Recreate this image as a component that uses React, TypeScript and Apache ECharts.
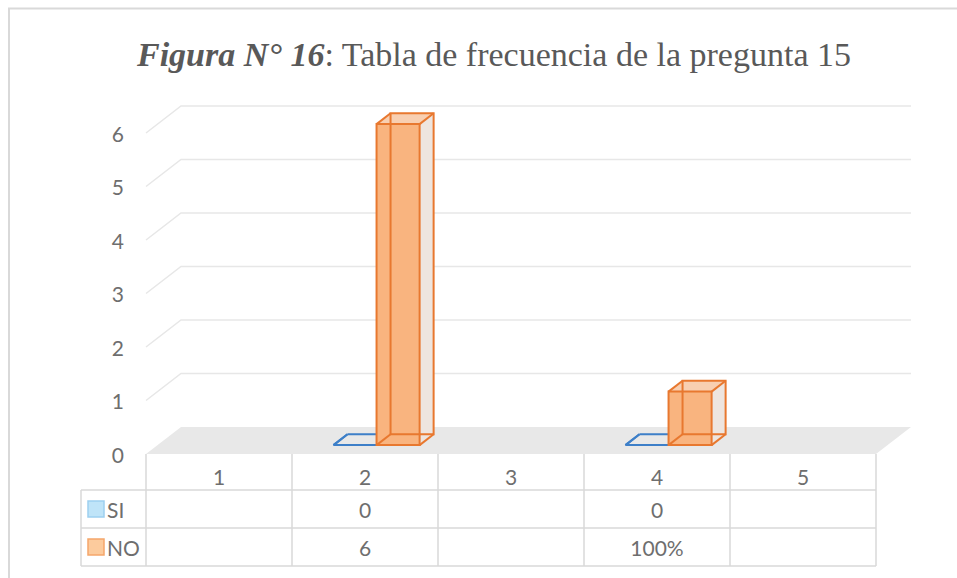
import React, { useEffect, useRef } from 'react';
import * as echarts from 'echarts';

// ---- data ----
const categories = ['1', '2', '3', '4', '5'];
const seriesNames = ['SI', 'NO'];
const siValues: (number | null)[] = [null, 0, null, 0, null];
const noValues: (number | null)[] = [null, 6, null, 1, null];
const siLabels = ['', '0', '', '0', ''];
const noLabels = ['', '6', '', '100%', ''];
const yTicks = [0, 1, 2, 3, 4, 5, 6];

// ---- styling / geometry ----
const DEPTH_X = 35;
const DEPTH_Y = -27;
const BAR_FRONT = 0.33;
const BAR_DEPTH = 0.4;
const BAR_W = 0.295;
const TEXT = '#6e6e6e';
const LABEL_FONT = 'Lato, "Open Sans", sans-serif';
const LABEL_SIZE = 21;
const TABLE_LINE = '#d9d9d9';
const GRID = { left: 146, right: 81, top: 133, bottom: 124 };
const LEGEND_LEFT = 81;
const ROW_H1 = 36;
const ROW_H2 = 38;
const ROW_H3 = 38;

type BarStyle = { front: string; side: string; top: string; edge: string };
const SI_STYLE: BarStyle = {
  front: 'rgba(91,155,213,0.25)',
  side: 'rgba(91,155,213,0.12)',
  top: 'rgba(91,155,213,0.0)',
  edge: '#3d7fc8',
};
const NO_STYLE: BarStyle = {
  front: '#f9b47f',
  side: '#eee5df',
  top: '#f8cfb1',
  edge: '#e8782f',
};

function makeBar(sign: number, st: BarStyle) {
  return (params: any, api: any) => {
    const val = api.value(1);
    if (val === null || val === undefined || isNaN(val)) return null;
    const idx = api.value(0);
    const band = api.size([1, 0])[0];
    const base = api.coord([idx, 0]);
    const topP = api.coord([idx, val]);
    const w = band * BAR_W;
    const ox = DEPTH_X * BAR_FRONT;
    const oy = DEPTH_Y * BAR_FRONT;
    const bx = DEPTH_X * BAR_DEPTH;
    const by = DEPTH_Y * BAR_DEPTH;
    const x0 = base[0] + (sign < 0 ? -w : 0) + ox;
    const x1 = x0 + w;
    const yb = base[1] + oy;
    const yt = topP[1] + oy;
    const children: any[] = [];
    children.push({
      type: 'polygon',
      shape: { points: [[x1, yb], [x1, yt], [x1 + bx, yt + by], [x1 + bx, yb + by]] },
      style: { fill: st.side, stroke: 'none' },
    });
    children.push({
      type: 'polygon',
      shape: { points: [[x0, yt], [x1, yt], [x1 + bx, yt + by], [x0 + bx, yt + by]] },
      style: { fill: st.top, stroke: 'none' },
    });
    children.push({
      type: 'polygon',
      shape: { points: [[x0, yb], [x1, yb], [x1, yt], [x0, yt]] },
      style: { fill: st.front, stroke: 'none' },
    });
    const edge = { stroke: st.edge, lineWidth: 2, fill: 'none' };
    children.push({
      type: 'polygon',
      shape: { points: [[x0 + bx, yb + by], [x1 + bx, yb + by], [x1 + bx, yt + by], [x0 + bx, yt + by]] },
      style: edge,
    });
    const corners = [[x0, yb], [x1, yb], [x1, yt], [x0, yt]];
    corners.forEach((c) => {
      children.push({
        type: 'line',
        shape: { x1: c[0], y1: c[1], x2: c[0] + bx, y2: c[1] + by },
        style: edge,
      });
    });
    children.push({
      type: 'polygon',
      shape: { points: corners },
      style: edge,
    });
    return { type: 'group', children };
  };
}

export default function App() {
  const ref = useRef<HTMLDivElement>(null);

  useEffect(() => {
    if (!ref.current) return;
    const chart = echarts.init(ref.current, null, { renderer: 'svg' });

    const wallItem = (params: any, api: any) => {
      const v = api.value(1);
      const cs = params.coordSys;
      const y = api.coord([0, v])[1];
      if (v === 0) {
        return {
          type: 'polygon',
          shape: {
            points: [
              [cs.x, y],
              [cs.x + cs.width, y],
              [cs.x + cs.width + DEPTH_X, y + DEPTH_Y],
              [cs.x + DEPTH_X, y + DEPTH_Y],
            ],
          },
          style: { fill: '#e8e8e8', stroke: 'none' },
        };
      }
      return {
        type: 'polyline',
        shape: {
          points: [
            [cs.x, y],
            [cs.x + DEPTH_X, y + DEPTH_Y],
            [cs.x + cs.width + DEPTH_X, y + DEPTH_Y],
          ],
        },
        style: { stroke: '#e7e7e7', lineWidth: 1.5, fill: 'none' },
      };
    };

    const tableItem = (params: any, api: any) => {
      const idx = api.value(0);
      const cs = params.coordSys;
      const band = api.size([1, 0])[0];
      const c = api.coord([idx, 0]);
      const y0 = c[1];
      const yA = y0 + ROW_H1;
      const yB = yA + ROW_H2;
      const yC = yB + ROW_H3;
      const lineSt = { stroke: TABLE_LINE, lineWidth: 1.5 };
      const txt = (t: string, x: number, y: number, align: string) => ({
        type: 'text',
        style: {
          text: t,
          x,
          y,
          align,
          verticalAlign: 'middle',
          fill: TEXT,
          fontSize: LABEL_SIZE,
          fontFamily: LABEL_FONT,
        },
      });
      const children: any[] = [];
      const left = c[0] - band / 2;
      children.push({ type: 'line', shape: { x1: left, y1: y0, x2: left, y2: yC }, style: lineSt });
      if (idx === categories.length - 1) {
        const right = c[0] + band / 2;
        children.push({ type: 'line', shape: { x1: right, y1: y0, x2: right, y2: yC }, style: lineSt });
      }
      if (siLabels[idx]) children.push(txt(siLabels[idx], c[0], (yA + yB) / 2, 'center'));
      if (noLabels[idx]) children.push(txt(noLabels[idx], c[0], (yB + yC) / 2, 'center'));
      if (idx === 0) {
        const r = cs.x + cs.width;
        [yA, yB, yC].forEach((yy) => {
          children.push({ type: 'line', shape: { x1: LEGEND_LEFT, y1: yy, x2: r, y2: yy }, style: lineSt });
        });
        children.push({ type: 'line', shape: { x1: LEGEND_LEFT, y1: yA, x2: LEGEND_LEFT, y2: yC }, style: lineSt });
        const keys = [
          { fill: '#bfe4f8', stroke: '#9dcff0' },
          { fill: '#fccb9d', stroke: '#f5a76b' },
        ];
        const rows = [(yA + yB) / 2, (yB + yC) / 2];
        seriesNames.forEach((n, k) => {
          children.push({
            type: 'rect',
            shape: { x: LEGEND_LEFT + 7, y: rows[k] - 8, width: 16, height: 16 },
            style: { fill: keys[k].fill, stroke: keys[k].stroke, lineWidth: 1.5 },
          });
          children.push(txt(n, LEGEND_LEFT + 26, rows[k], 'left'));
        });
      }
      return { type: 'group', children };
    };

    const serif = '"Liberation Serif", "Times New Roman", serif';

    chart.setOption({
      animation: false,
      backgroundColor: '#ffffff',
      title: {
        text: '{b|Figura N° 16}{r|: Tabla de frecuencia de la pregunta 15}',
        left: 132,
        top: 32,
        textStyle: {
          rich: {
            b: {
              fontFamily: serif,
              fontSize: 34,
              fontWeight: 'bold',
              fontStyle: 'italic',
              color: '#595959',
            },
            r: {
              fontFamily: serif,
              fontSize: 34,
              fontWeight: 'normal',
              fontStyle: 'normal',
              color: '#595959',
            },
          },
        },
      },
      graphic: [
        {
          type: 'polyline',
          shape: { points: [[9, 578], [9, 8.5], [957, 8.5]] },
          style: { stroke: '#d9d9d9', lineWidth: 2, fill: 'none' },
          silent: true,
        },
      ],
      grid: { ...GRID },
      xAxis: {
        type: 'category',
        data: categories,
        axisLine: { show: false },
        axisTick: { show: false },
        axisLabel: { color: TEXT, fontSize: LABEL_SIZE, fontFamily: LABEL_FONT, margin: 12 },
        splitLine: { show: false },
      },
      yAxis: {
        type: 'value',
        min: 0,
        max: 6,
        interval: 1,
        axisLine: { show: false },
        axisTick: { show: false },
        splitLine: { show: false },
        axisLabel: { color: TEXT, fontSize: LABEL_SIZE, fontFamily: LABEL_FONT, margin: 22 },
      },
      series: [
        {
          type: 'custom',
          name: 'walls',
          silent: true,
          renderItem: wallItem,
          data: yTicks.map((v) => [0, v]),
          z: 1,
        },
        {
          type: 'custom',
          name: seriesNames[0],
          renderItem: makeBar(-1, SI_STYLE),
          data: siValues.map((v, i) => [i, v === null ? NaN : v]),
          z: 2,
        },
        {
          type: 'custom',
          name: seriesNames[1],
          renderItem: makeBar(1, NO_STYLE),
          data: noValues.map((v, i) => [i, v === null ? NaN : v]),
          z: 3,
        },
        {
          type: 'custom',
          name: 'table',
          silent: true,
          renderItem: tableItem,
          data: categories.map((_, i) => [i, 0]),
          z: 4,
        },
      ],
    });

    return () => chart.dispose();
  }, []);

  return (
    <div
      ref={ref}
      style={{ position: 'fixed', left: 0, top: 0, width: 957, height: 578, background: '#fff' }}
    />
  );
}
